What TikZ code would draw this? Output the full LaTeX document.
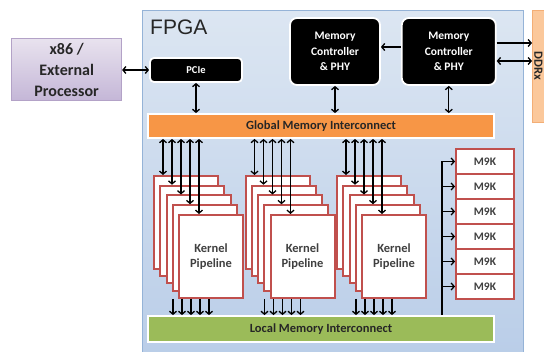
\documentclass[tikz,border=0pt]{standalone}
\usepackage{fontspec}
\setmainfont{Carlito}
\newfontfamily\titlefont{Liberation Sans}
\usetikzlibrary{arrows.meta,positioning}

\definecolor{fpgatop}{HTML}{DCE6F2}
\definecolor{fpgabot}{HTML}{B9CDE8}
\definecolor{fpgaline}{HTML}{95B3D7}
\definecolor{hosttop}{HTML}{E8E2EE}
\definecolor{hostbot}{HTML}{C4B6D7}
\definecolor{hostline}{HTML}{B3A2C7}
\definecolor{ddrfill}{HTML}{FBC89B}
\definecolor{ddrline}{HTML}{F3AE76}
\definecolor{gmiorange}{HTML}{F79646}
\definecolor{lmigreen}{HTML}{9BBB59}
\definecolor{kernred}{HTML}{C0504D}

\begin{document}
\begin{tikzpicture}[x=1pt, y=-1pt,
  node distance=20pt and 27pt,
  chip/.style={draw=white, line width=1.8pt, fill=black, rounded corners=7pt, text=white,
               font=\bfseries\fontsize{11.5}{15.5}\selectfont, align=center, inner sep=0pt},
  bar/.style={draw=white, line width=1.8pt, minimum width=346pt, inner sep=0pt,
              font=\bfseries\fontsize{12.5}{14}\selectfont, text=black!85},
  kbox/.style={draw=kernred, line width=2pt, fill=white, minimum width=64pt, inner sep=0pt},
  ktext/.style={font=\bfseries\fontsize{12.5}{15}\selectfont, text=black!75, align=center},
  mbox/.style={draw=kernred, line width=2pt, fill=white, minimum width=58pt, minimum height=25pt,
               inner sep=0pt, font=\bfseries\fontsize{11.5}{12}\selectfont, text=black!75},
  arrow/.style={-{Straight Barb[length=3pt,width=7pt]}, line width=1.3pt},
  biarrow/.style={{Straight Barb[length=3pt,width=7pt]}-{Straight Barb[length=3pt,width=7pt]}, line width=1.3pt},
]
  \useasboundingbox (0,0) rectangle (544,352);
  \clip (0,0) rectangle (544,352);
  \fill[white] (0,0) rectangle (544,352);

  \node[draw=fpgaline, line width=1pt, top color=fpgatop, bottom color=fpgabot, inner sep=0pt,
        minimum width=381pt, minimum height=352pt, anchor=north west] (fpga) at (142,10) {};
  \node[font=\titlefont\fontsize{21}{21}\selectfont, text=black!85, anchor=base west, inner sep=0pt]
        (fpgalabel) at (150,35) {FPGA};

  \node[chip, rounded corners=4pt, minimum width=92pt, minimum height=24pt,
        font=\bfseries\fontsize{10.5}{12}\selectfont] (pcie) at (196,70) {PCIe};
  \node[draw=hostline, line width=1pt, top color=hosttop, bottom color=hostbot,
        minimum width=110pt, minimum height=62pt, align=center, inner sep=0pt,
        font=\bfseries\fontsize{16}{21}\selectfont, text=black!85, left=27pt of pcie] (host)
        {x86 /\\External\\Processor};

  \node[chip, minimum width=90pt, minimum height=67pt] (mc1) at (335,51.5) {Memory\\Controller\\\& PHY};
  \node[chip, minimum width=94pt, minimum height=67pt, right=20pt of mc1] (mc2) {Memory\\Controller\\\& PHY};
  \node[draw=ddrline, line width=1pt, fill=ddrfill, minimum width=24pt, minimum height=112pt,
        inner sep=0pt, anchor=north west] (ddr) at (532,10) {};
  \node[rotate=-90, inner sep=0pt, font=\bfseries\fontsize{12.5}{13}\selectfont, text=black!85]
        (ddrlabel) at (538.5,66) {DDRx};

  \node[bar, fill=gmiorange, minimum height=24pt] (gmi) at (321,126) {Global Memory Interconnect};
  \node[bar, fill=lmigreen, minimum height=26pt] (lmi) at (321,329) {Local Memory Interconnect};

  \draw[biarrow] (host) -- (pcie);
  \draw[biarrow] (pcie) -- (pcie |- gmi.north);
  \draw[biarrow] (mc1) -- (mc1 |- gmi.north);
  \draw[biarrow] (mc2) -- (mc2 |- gmi.north);
  \draw[arrow] ([yshift=4.5pt]mc2.west) -- ([yshift=4.5pt]mc1.east);
  \draw[arrow] ([yshift=8.5pt]mc2.east) -- ([yshift=8.5pt]mc2.east -| ddr.west);
  \draw[biarrow] ([yshift=-9.5pt]mc2.east) -- ([yshift=-9.5pt]mc2.east -| ddr.west);

  \foreach \s in {0,1,2} {
    \foreach \i in {0,...,4} {
      \pgfmathsetmacro\kx{153+91.5*\s+6.25*\i}
      \pgfmathsetmacro\ky{175+9.75*\i}
      \pgfmathsetmacro\kh{93-2.5*\i}
      \node[kbox, minimum height=\kh pt, anchor=north west] (k\s\i) at (\kx,\ky) {};
    }
    \node[ktext] (kl\s) at (k\s4) {Kernel\\Pipeline};
    \foreach \i in {0,...,4} {
      \pgfmathsetmacro\ax{10+2.75*\i}
      \pgfmathsetmacro\bx{-5+9*\i}
      \draw[biarrow] ([xshift=\ax pt]k\s\i.north west) -- ([xshift=\ax pt]k\s\i.north west |- gmi.south);
      \draw[arrow] ([xshift=\bx pt]k\s4.south west) -- ([xshift=\bx pt]k\s4.south west |- lmi.north);
    }
  }

  \foreach \i in {0,...,5}
    \node[mbox, anchor=north west] (m\i) at (455,148+25*\i) {M9K};
  \coordinate (bus) at ([xshift=-13pt]m5.west |- lmi.north);
  \draw[arrow] (bus) |- (m0.west);
  \foreach \i in {1,...,5}
    \draw[arrow] (m\i.west -| bus) -- (m\i.west);
\end{tikzpicture}
\end{document}
